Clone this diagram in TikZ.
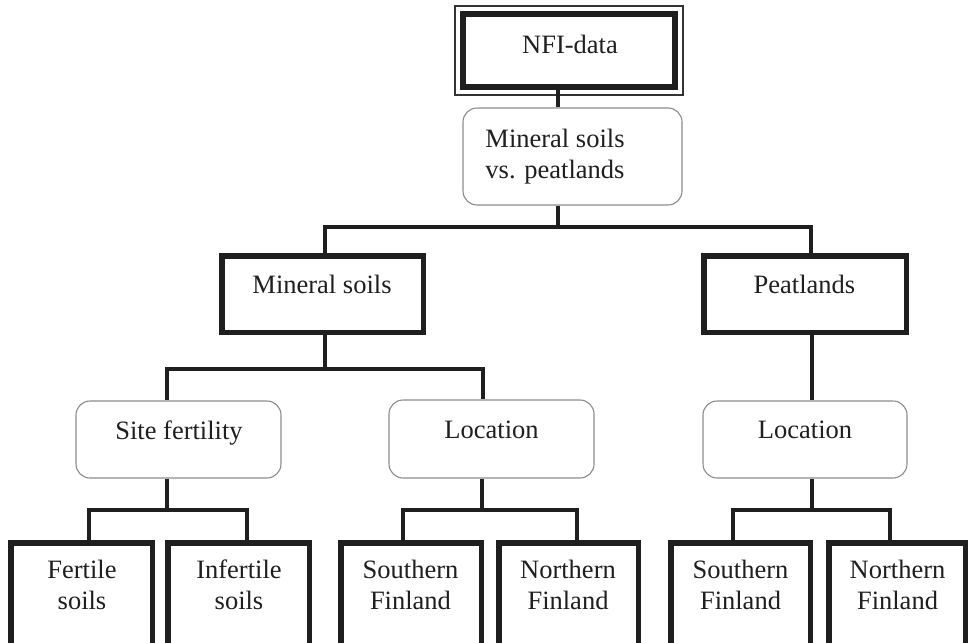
\documentclass[tikz,border=0pt]{standalone}
\usepackage{fontspec}
\setmainfont{Liberation Serif}
\begin{document}
\begin{tikzpicture}[x=1pt,y=-1pt,
  conn/.style={line width=4pt,draw=black!88},
  thickbox/.style={draw=black!88,line width=5.5pt,fill=white,inner sep=0pt},
  softbox/.style={draw=black!45,line width=1.1pt,rounded corners=14pt,fill=white,inner sep=0pt},
  lbl/.style={font=\fontsize{26.5}{31}\selectfont,text=black!88,align=center,inner sep=0pt}]
\useasboundingbox (0,0) rectangle (970,643);
\fill[white] (0,0) rectangle (970,643);
\clip (0,0) rectangle (970,643);
% junction coordinates
\coordinate (x0) at (558,0);
\coordinate (j1) at (558,227);
\coordinate (cMS) at (325,227);
\coordinate (cPT) at (811,227);
\coordinate (j2) at (325,369);
\coordinate (cSF) at (167,369);
\coordinate (cLO) at (483,369);
\coordinate (xP) at (812,0);
\coordinate (jSF) at (167,510);
\coordinate (cF) at (89,510);
\coordinate (cI) at (247,510);
\coordinate (jL1) at (482,510);
\coordinate (cS1) at (403,510);
\coordinate (cN1) at (577,510);
\coordinate (jL2) at (812,510);
\coordinate (cS2) at (733,510);
\coordinate (cN2) at (890,510);
% boxes
\node[thickbox,line width=6pt,minimum width=212,minimum height=73] (nfi) at (569,50.5) {};
\node[softbox,minimum width=219,minimum height=97] (mv) at (572.5,156.5) {};
\node[thickbox,minimum width=201.5,minimum height=76.5] (ms) at (322.5,294) {};
\node[thickbox,minimum width=202.5,minimum height=76.5] (pt) at (805,294) {};
\node[softbox,minimum width=205,minimum height=77] (sfert) at (178.5,439.5) {};
\node[softbox,minimum width=205,minimum height=78] (loc1) at (491.5,439) {};
\node[softbox,minimum width=204,minimum height=77] (loc2) at (805,439.5) {};
\node[thickbox,minimum width=141.5,minimum height=114.5] (fert) at (81.5,600) {};
\node[thickbox,minimum width=141.5,minimum height=114.5] (inf) at (238.5,600) {};
\node[thickbox,minimum width=140.5,minimum height=114.5] (sf1) at (411,600) {};
\node[thickbox,minimum width=139.5,minimum height=114.5] (nf1) at (568.5,600) {};
\node[thickbox,minimum width=139.5,minimum height=114.5] (sf2) at (740.5,600) {};
\node[thickbox,minimum width=136.5,minimum height=114.5] (nf2) at (897,600) {};
\draw[draw=black!80,line width=1.5pt] ([shift={(-5pt,5pt)}]nfi.north west) rectangle ([shift={(5pt,-5pt)}]nfi.south east);
% connectors
\draw[conn] (nfi.south -| x0) -- (mv.north -| x0);
\draw[conn] (mv.south -| j1) -- (j1);
\draw[conn] (ms.north -| cMS) -- (cMS) -- (cPT) -- (pt.north -| cPT);
\draw[conn] (ms.south -| j2) -- (j2);
\draw[conn] (sfert.north -| cSF) -- (cSF) -- (cLO) -- (loc1.north -| cLO);
\draw[conn] (pt.south -| xP) -- (loc2.north -| xP);
\draw[conn] (sfert.south -| jSF) -- (jSF);
\draw[conn] (fert.north -| cF) -- (cF) -- (cI) -- (inf.north -| cI);
\draw[conn] (loc1.south -| jL1) -- (jL1);
\draw[conn] (sf1.north -| cS1) -- (cS1) -- (cN1) -- (nf1.north -| cN1);
\draw[conn] (loc2.south -| jL2) -- (jL2);
\draw[conn] (sf2.north -| cS2) -- (cS2) -- (cN2) -- (nf2.north -| cN2);
% labels
\node[lbl,anchor=base] (tnfi) at (570,53) {NFI-data};
\node[lbl,anchor=base] (tmv) at (555,178) {Mineral soils\\vs. peatlands};
\node[lbl,anchor=base] (tms) at (322,293) {Mineral soils};
\node[lbl,anchor=base] (tpt) at (804.5,293) {Peatlands};
\node[lbl,anchor=base] (tsf) at (179,439) {Site fertility};
\node[lbl,anchor=base] (tl1) at (491.5,438) {Location};
\node[lbl,anchor=base] (tl2) at (805,438) {Location};
\node[lbl,anchor=base] (tfe) at (82,609) {Fertile\\soils};
\node[lbl,anchor=base] (tin) at (239,609) {Infertile\\soils};
\node[lbl,anchor=base] (ts1) at (410.5,609) {Southern\\Finland};
\node[lbl,anchor=base] (tn1) at (568,609) {Northern\\Finland};
\node[lbl,anchor=base] (ts2) at (740.5,609) {Southern\\Finland};
\node[lbl,anchor=base] (tn2) at (897.5,609) {Northern\\Finland};
\end{tikzpicture}
\end{document}
